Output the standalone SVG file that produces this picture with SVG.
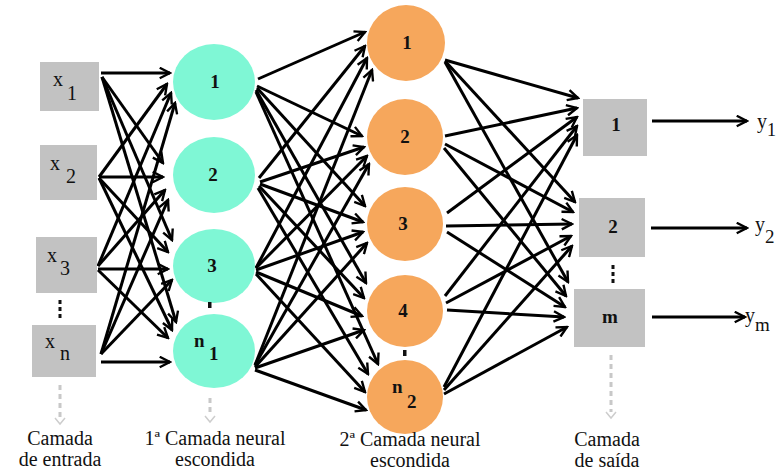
<svg xmlns="http://www.w3.org/2000/svg" width="781" height="472" viewBox="0 0 781 472" font-family="'Liberation Serif', 'DejaVu Serif', serif">
<style>
.t{font-family:'Liberation Serif','DejaVu Serif',serif;fill:#111;}
.lbl{font-size:19px;text-anchor:middle;font-weight:bold;}
.cap{font-size:20px;text-anchor:middle;}
.sym{font-size:20px;}
.box{fill:#C2C2C2;}
.h1{fill:#7FF7D5;}
.h2{fill:#F6A75C;}
.c line{stroke:#000;stroke-width:3;marker-end:url(#ah);}
.gd{stroke:#C8C8C8;stroke-width:3;stroke-dasharray:5 4;fill:none;}
.gc{stroke:#CDCDCD;stroke-width:1.5;fill:none;}
.dots{stroke:#111;stroke-width:3;stroke-dasharray:4 3;}
</style>
<defs>
<marker id="ah" viewBox="0 0 12 12" refX="10.5" refY="6" markerWidth="13" markerHeight="13" markerUnits="userSpaceOnUse" orient="auto">
<path d="M1,1.2 L10.5,6 L1,10.8" fill="none" stroke="#000" stroke-width="2.2"/>
</marker>
</defs>
<rect width="781" height="472" fill="#fff"/>

<g id="connectors" class="c">
<line x1="101" y1="73" x2="170" y2="73"/>
<line x1="102" y1="77" x2="163" y2="163"/>
<line x1="102" y1="77" x2="172" y2="240"/>
<line x1="102" y1="77" x2="176" y2="322"/>
<line x1="99" y1="177" x2="167" y2="84"/>
<line x1="99" y1="177" x2="163" y2="177"/>
<line x1="99" y1="178" x2="168" y2="252"/>
<line x1="99" y1="178" x2="172" y2="330"/>
<line x1="98" y1="266" x2="171" y2="93"/>
<line x1="98" y1="266" x2="165" y2="190"/>
<line x1="98" y1="269" x2="168" y2="269"/>
<line x1="98" y1="270" x2="168" y2="338"/>
<line x1="101" y1="354" x2="175" y2="103"/>
<line x1="101" y1="354" x2="168" y2="200"/>
<line x1="101" y1="354" x2="172" y2="280"/>
<line x1="101" y1="362" x2="170" y2="362"/>
<line x1="258" y1="79" x2="365" y2="32"/>
<line x1="257" y1="86" x2="362" y2="136"/>
<line x1="257" y1="88" x2="365" y2="206"/>
<line x1="256" y1="90" x2="366" y2="283"/>
<line x1="256" y1="92" x2="378" y2="364"/>
<line x1="259" y1="178" x2="365" y2="46"/>
<line x1="260" y1="182" x2="364" y2="147"/>
<line x1="260" y1="184" x2="363" y2="222"/>
<line x1="259" y1="186" x2="364" y2="298"/>
<line x1="258" y1="188" x2="368" y2="374"/>
<line x1="256" y1="268" x2="367" y2="58"/>
<line x1="256" y1="268" x2="367" y2="156"/>
<line x1="256" y1="270" x2="363" y2="232"/>
<line x1="256" y1="272" x2="362" y2="316"/>
<line x1="256" y1="274" x2="365" y2="392"/>
<line x1="255" y1="365" x2="372" y2="70"/>
<line x1="255" y1="365" x2="369" y2="164"/>
<line x1="255" y1="367" x2="367" y2="243"/>
<line x1="255" y1="368" x2="364" y2="330"/>
<line x1="255" y1="370" x2="366" y2="410"/>
<line x1="445" y1="60" x2="578" y2="98"/>
<line x1="445" y1="61" x2="575" y2="202"/>
<line x1="445" y1="62" x2="568" y2="282"/>
<line x1="445" y1="136" x2="577" y2="108"/>
<line x1="445" y1="144" x2="573" y2="212"/>
<line x1="444" y1="148" x2="566" y2="296"/>
<line x1="447" y1="213" x2="577" y2="117"/>
<line x1="446" y1="226" x2="572" y2="224"/>
<line x1="447" y1="232" x2="565" y2="307"/>
<line x1="445" y1="296" x2="577" y2="126"/>
<line x1="446" y1="303" x2="571" y2="236"/>
<line x1="447" y1="310" x2="564" y2="317"/>
<line x1="444" y1="387" x2="577" y2="135"/>
<line x1="444" y1="390" x2="572" y2="246"/>
<line x1="444" y1="394" x2="567" y2="327"/>
<line x1="652" y1="121" x2="747" y2="121"/>
<line x1="651" y1="228" x2="747" y2="228"/>
<line x1="652" y1="317" x2="745" y2="317"/>
</g>

<g id="in-x1"><rect class="box" x="40" y="62" width="59" height="49"/>
<text class="t sym" x="53" y="86">x</text><text class="t sym" x="67" y="100">1</text></g>
<g id="in-x2"><rect class="box" x="40" y="145" width="57" height="55"/>
<text class="t sym" x="50" y="170">x</text><text class="t sym" x="66" y="183">2</text></g>
<g id="in-x3"><rect class="box" x="36" y="237" width="61" height="56"/>
<text class="t sym" x="47" y="262">x</text><text class="t sym" x="60" y="275">3</text></g>
<g id="in-xn"><rect class="box" x="32" y="325" width="64" height="52"/>
<text class="t sym" x="45" y="348">x</text><text class="t sym" x="60" y="360">n</text></g>
<g id="in-dots"><line class="dots" x1="60" y1="300" x2="60" y2="320"/></g>

<g id="h1-1"><ellipse class="h1" cx="214" cy="82" rx="41" ry="38"/><text class="t lbl" x="215" y="88">1</text></g>
<g id="h1-2"><ellipse class="h1" cx="214" cy="175" rx="41" ry="38"/><text class="t lbl" x="213" y="181">2</text></g>
<g id="h1-3"><ellipse class="h1" cx="214" cy="266" rx="41" ry="37"/><text class="t lbl" x="212" y="272">3</text></g>
<g id="h1-n1"><ellipse class="h1" cx="214" cy="351" rx="41" ry="37"/>
<text class="t sym" x="194" y="347" style="font-size:19px;font-weight:bold">n</text><text class="t sym" x="209" y="360" style="font-size:19px;font-weight:bold">1</text></g>
<g id="h1-dot"><rect x="208" y="302" width="3.5" height="6" fill="#111"/></g>

<g id="h2-1"><ellipse class="h2" cx="406" cy="43" rx="39" ry="38"/><text class="t lbl" x="407" y="49">1</text></g>
<g id="h2-2"><ellipse class="h2" cx="405" cy="137" rx="38" ry="38"/><text class="t lbl" x="405" y="143">2</text></g>
<g id="h2-3"><ellipse class="h2" cx="405" cy="224" rx="38" ry="37"/><text class="t lbl" x="403" y="230">3</text></g>
<g id="h2-4"><ellipse class="h2" cx="405" cy="311" rx="38" ry="36"/><text class="t lbl" x="403" y="317">4</text></g>
<g id="h2-n2"><ellipse class="h2" cx="405" cy="397" rx="38" ry="37"/>
<text class="t sym" x="392" y="393" style="font-size:19px;font-weight:bold">n</text><text class="t sym" x="407" y="408" style="font-size:19px;font-weight:bold">2</text></g>
<g id="h2-dot"><rect x="403" y="350" width="3.5" height="6" fill="#111"/></g>

<g id="out-1"><rect class="box" x="583" y="99" width="64" height="57"/><text class="t lbl" x="616" y="131">1</text></g>
<g id="out-2"><rect class="box" x="579" y="198" width="66" height="59"/><text class="t lbl" x="613" y="233">2</text></g>
<g id="out-m"><rect class="box" x="574" y="289" width="71" height="58"/><text class="t lbl" x="610" y="323">m</text></g>
<g id="out-dots"><line class="dots" x1="613" y1="265" x2="613" y2="283"/></g>

<g id="y-labels">
<text class="t sym" x="757" y="128">y</text><text class="t sym" x="767" y="136" style="font-size:18px">1</text>
<text class="t sym" x="755" y="231">y</text><text class="t sym" x="765" y="243" style="font-size:19px">2</text>
<text class="t sym" x="745" y="322">y</text><text class="t sym" x="755" y="331" style="font-size:19px">m</text>
</g>

<g id="layer-arrows">
<line class="gd" x1="60" y1="385" x2="60" y2="419"/><path class="gc" d="M55,418 L60,424 L65,418"/>
<line class="gd" x1="210" y1="398" x2="210" y2="416"/><path class="gc" d="M205,416 L210,422 L215,416"/>
<line class="gd" x1="611" y1="355" x2="611" y2="412"/><path class="gc" d="M606,412 L611,418 L616,412"/>
</g>

<g id="captions">
<text class="t cap" x="60" y="445">Camada</text>
<text class="t cap" x="60" y="466">de entrada</text>
<text class="t cap" x="215" y="445">1ª Camada neural</text>
<text class="t cap" x="215" y="466">escondida</text>
<text class="t cap" x="410" y="446">2ª Camada neural</text>
<text class="t cap" x="410" y="467">escondida</text>
<text class="t cap" x="607" y="446">Camada</text>
<text class="t cap" x="607" y="467">de saída</text>
</g>
</svg>
